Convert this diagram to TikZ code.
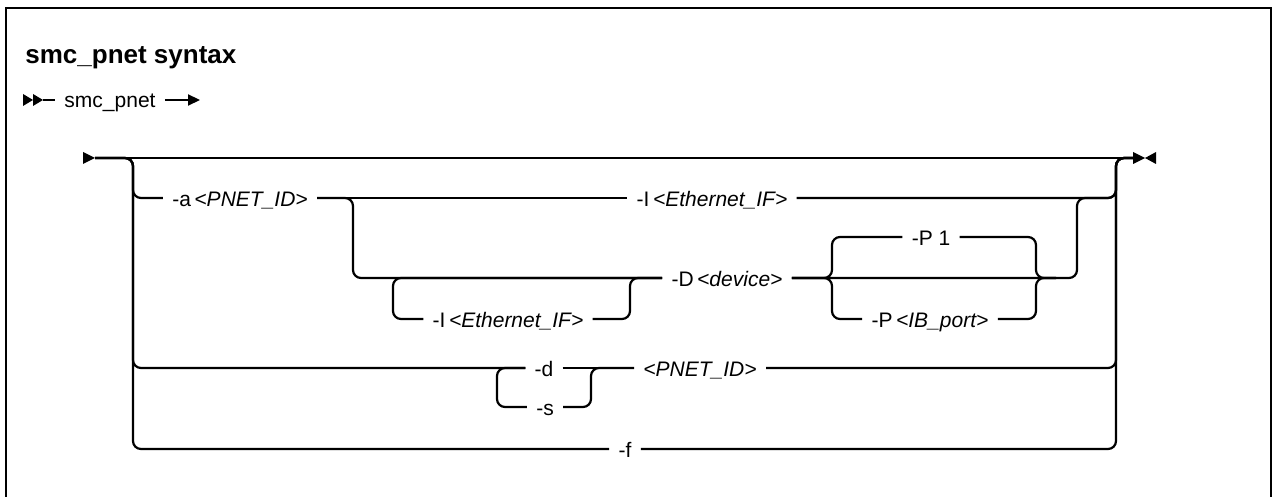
\documentclass[tikz,border=0pt]{standalone}
\usepackage{fontspec}
\setmainfont{Liberation Sans}
\usetikzlibrary{arrows.meta}

\tikzset{
	rail/.style={line width=1.1pt, rounded corners=4pt},
	opt/.style={inner xsep=4.5pt, inner ysep=0pt, text height=9pt, text depth=1pt, font=\fontsize{10.5}{12}\selectfont}
}

\begin{document}
\begin{tikzpicture}[x=0.5pt,y=-0.5pt]
	\useasboundingbox (0,0) rectangle (1273,497);
	\draw[line width=1pt] (6,497) -- (6,8) -- (1271,8) -- (1271,497);
	\node[anchor=base west, inner sep=0pt, font=\fontsize{13}{15}\selectfont\bfseries] (title) at (25,64) {smc\_pnet syntax};

	% command line
	\node[opt] (cmd) at (110,100) {smc\_pnet};
	\coordinate (go) at (43,100);
	\coordinate (more) at (200,100);
	\fill (23,94) -- (33,100) -- (23,106) -- cycle;
	\fill (go) -- ++(-10,-6) -- ++(0,12) -- cycle;
	\draw[rail] (go) -- (cmd);
	\draw[rail,-{Triangle[length=6pt,width=5.5pt]}] (cmd) -- (more);

	% main line
	\coordinate (st) at (95,158);
	\coordinate (en) at (1133,158);
	\fill (st) -- ++(-12,-6) -- ++(0,12) -- cycle;
	\fill (en) ++(0,-6) -- ++(12,6) -- ++(-12,6) -- cycle;
	\fill (en) ++(23,-6) -- ++(-11,6) -- ++(11,6) -- cycle;
	\draw[rail] (st) -- (en);

	\coordinate (cL) at (133,0);
	\coordinate (cA) at (353,0);
	\coordinate (cB) at (393,0);
	\coordinate (cC) at (630,0);
	\coordinate (cG) at (497,0);
	\coordinate (cH) at (591,0);
	\coordinate (cD) at (832,0);
	\coordinate (cE) at (1036,0);
	\coordinate (cF) at (1077,0);
	\coordinate (cR) at (1116,0);
	\coordinate (pj) at (1056,278);

	\node[opt] (a) at (240,198) {-a\,\textit{<PNET\_ID>}};
	\node[opt] (I1) at (712,198) {-I\,\textit{<Ethernet\_IF>}};
	\node[opt] (D) at (727,278) {-D\,\textit{<device>}};
	\node[opt] (I2) at (508,319) {-I\,\textit{<Ethernet\_IF>}};
	\node[opt] (P1) at (931,237) {-P 1};
	\node[opt] (Pib) at (930,319) {-P\,\textit{<IB\_port>}};
	\node[opt] (d) at (544,368) {-d};
	\node[opt] (s) at (545,407) {-s};
	\node[opt] (pid) at (700,368) {\textit{<PNET\_ID>}};
	\node[opt] (f) at (625,449) {-f};

	% left and right rails
	\draw[rail] (st) -| (cL |- a) -- (a.west);
	\draw[rail] (st) -| (cL |- d) -- (d.west);
	\draw[rail] (st) -| (cL |- f) -- (f.west);
	\draw[rail] (I1.east) -| (cR |- st) -- (en);
	\draw[rail] (pid.east) -| (cR |- st) -- (en);
	\draw[rail] (f.east) -| (cR |- st) -- (en);

	% -a branch
	\draw[rail] (a.east) -- (I1.west);
	\draw[rail] (a.east) -| (cA |- D) -- (D.west);
	\draw[rail] (I2.west) -| (cB |- D) -- (D.west);
	\draw[rail] (I2.east) -| (cC |- D) -- (D.west);
	\draw[rail] (D.east) -| (cF |- a) -| (cR |- st) -- (en);
	\draw[rail] (D.east) -| (cD |- P1) -- (P1.west);
	\draw[rail] (P1.east) -| (cE |- D) -- (pj);
	\draw[rail] (D.east) -| (cD |- Pib) -- (Pib.west);
	\draw[rail] (Pib.east) -| (cE |- D) -- (pj);

	% -d / -s branch
	\draw[rail] (d.east) -- (pid.west);
	\draw[rail] (s.west) -| (cG |- d) -- (d.west);
	\draw[rail] (s.east) -| (cH |- d) -- (pid.west);
\end{tikzpicture}
\end{document}
